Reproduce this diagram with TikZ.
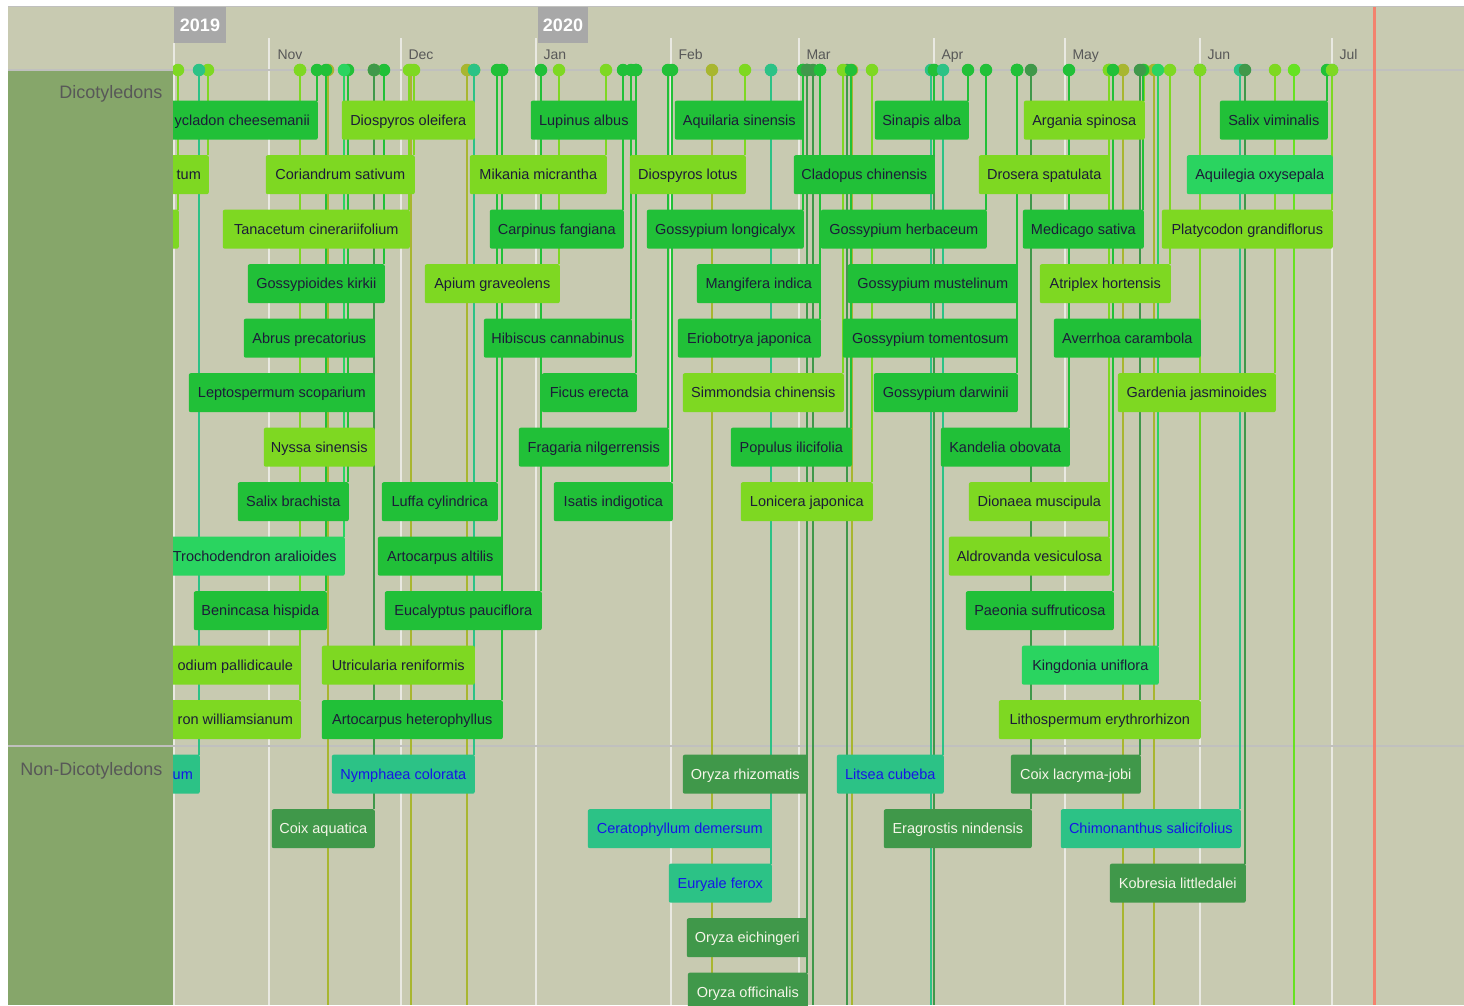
\documentclass[tikz,border=0pt]{standalone}
\usepackage{fontspec}
\setmainfont{Liberation Sans}
\pgfdeclarelayer{back}
\pgfdeclarelayer{stems}
\pgfsetlayers{back,stems,main}

\definecolor{paper}{RGB}{200,202,177}
\definecolor{groupcol}{RGB}{134,166,106}
\definecolor{gridline}{RGB}{233,233,226}
\definecolor{axisgray}{RGB}{192,192,190}
\definecolor{labelgray}{RGB}{88,88,88}
\definecolor{yearfill}{RGB}{168,168,168}
\definecolor{nowred}{RGB}{243,130,110}
\definecolor{cbg}{RGB}{33,192,56}
\definecolor{cyg}{RGB}{126,216,34}
\definecolor{clg}{RGB}{42,212,96}
\definecolor{ctl}{RGB}{44,194,134}
\definecolor{cdg}{RGB}{64,152,74}
\definecolor{col}{RGB}{168,182,48}
\definecolor{cbr}{RGB}{102,226,34}
\definecolor{inkdark}{RGB}{28,28,56}
\definecolor{inkblue}{RGB}{22,22,230}
\definecolor{inklight}{RGB}{245,245,232}

\tikzset{
  taxbox/.style={rounded corners=2pt, inner sep=0pt, minimum height=39pt,
    font=\fontsize{14.5}{17}\selectfont, text height=12pt, text depth=1.5pt,
    anchor=north east},
  kbg/.style={fill=cbg, text=inkdark},
  kyg/.style={fill=cyg, text=inkdark},
  klg/.style={fill=clg, text=inkdark},
  ktl/.style={fill=ctl, text=inkblue},
  kdg/.style={fill=cdg, text=inklight},
  pin/.style={circle, inner sep=0pt, minimum size=12.5pt, fill=#1},
  stem/.style={draw=#1, line width=1.1pt},
  monthline/.style={draw=gridline, line width=1.4pt},
  monthlabel/.style={anchor=base west, text=labelgray, font=\fontsize{14}{16}\selectfont},
  yearbox/.style={fill=yearfill, text=white, inner sep=0pt, minimum height=36pt,
    font=\fontsize{18}{20}\selectfont\bfseries},
  grouplabel/.style={anchor=base east, text=labelgray, font=\fontsize{18}{20}\selectfont},
}

% one taxon: name, left x, right x, row, colour key, label
\newcommand\taxon[6]{%
  \node[taxbox, k#5, minimum width={(#3)-(#2)}] (#1) at (#3,{100.5+(#4-1)*54.5}) {#6};
  \node[pin=c#5] (#1-pin) at ({#3-1},70) {};
  \begin{pgfonlayer}{stems}
    \draw[stem=c#5] (#1-pin.center) -- (#1-pin.center |- #1.north);
  \end{pgfonlayer}
}
% a marker whose item lies below the visible rows
\newcommand\longpin[3]{%
  \node[pin=#3] (#1) at (#2,70) {};
  \coordinate (#1-end) at (#2,1005);
  \begin{pgfonlayer}{stems}
    \draw[stem=#3] (#1.center) -- (#1-end);
  \end{pgfonlayer}
}

\begin{document}
\begin{tikzpicture}[x=1pt,y=-1pt]
\useasboundingbox (0,0) rectangle (1464,1005);

\begin{pgfonlayer}{back}
  \fill[white] (0,0) rectangle (1464,1005);
  \fill[paper] (8,6) rectangle (1464,1005);
  \fill[groupcol] (8,70) rectangle (173,1005);
  \draw[axisgray, line width=1pt] (8,6.5) -- (1464,6.5);
  % month grid
  \foreach \mx in {269,401,536,671,799,934,1065,1200,1332}
    \draw[monthline] (\mx,38) -- (\mx,1005);
  \draw[monthline] (174,43) -- (174,1005);
  % axis and group separator
  \draw[axisgray, line width=1.2pt] (8,70) -- (1464,70);
  \draw[axisgray, line width=1.4pt] (8,746) -- (1464,746);
  % current date
  \draw[nowred, line width=3pt] (1374,7) -- (1374,1005);
\end{pgfonlayer}

% header
\node[yearbox, minimum width=52pt] (y2019) at (200,25) {2019};
\node[yearbox, minimum width=50pt] (y2020) at (563,25) {2020};
\node[monthlabel] (mNov) at (274,59) {Nov};
\node[monthlabel] (mDec) at (405,59) {Dec};
\node[monthlabel] (mJan) at (540,59) {Jan};
\node[monthlabel] (mFeb) at (675,59) {Feb};
\node[monthlabel] (mMar) at (803,59) {Mar};
\node[monthlabel] (mApr) at (938,59) {Apr};
\node[monthlabel] (mMay) at (1069,59) {May};
\node[monthlabel] (mJun) at (1204,59) {Jun};
\node[monthlabel] (mJul) at (1336,59) {Jul};

% groups
\node[grouplabel] (gDicot) at (166,98) {Dicotyledons};
\node[grouplabel] (gNonDicot) at (166,775) {Non-Dicotyledons};

\begin{scope}
\clip (173,63) rectangle (1464,1005);
% markers for items further down
\longpin{p01}{328}{col}
\longpin{p02}{411}{col}
\longpin{p03}{467}{col}
\longpin{p04}{712}{col}
\longpin{p05}{813}{cdg}
\longpin{p06}{847}{cdg}
\longpin{p07}{852}{col}
\longpin{p08}{931}{ctl}
\longpin{p09}{934}{cdg}
\longpin{p10}{1123}{col}
\longpin{p11}{1154}{col}
\longpin{p12}{1294}{cbr}

% Dicotyledons
\taxon{t01}{167}{318}{1}{bg}{ycladon cheesemanii}
\taxon{t02}{342}{475}{1}{yg}{Diospyros oleifera}
\taxon{t03}{531}{637}{1}{bg}{Lupinus albus}
\taxon{t04}{675}{804}{1}{bg}{Aquilaria sinensis}
\taxon{t05}{875}{969}{1}{bg}{Sinapis alba}
\taxon{t06}{1024}{1145}{1}{yg}{Argania spinosa}
\taxon{t07}{1220}{1328}{1}{bg}{Salix viminalis}

\taxon{t08}{169}{209}{2}{yg}{tum}
\taxon{t09}{266}{415}{2}{yg}{Coriandrum sativum}
\taxon{t10}{470}{607}{2}{yg}{Mikania micrantha}
\taxon{t11}{630}{746}{2}{yg}{Diospyros lotus}
\taxon{t12}{794}{935}{2}{bg}{Cladopus chinensis}
\taxon{t13}{979}{1110}{2}{yg}{Drosera spatulata}
\taxon{t14}{1187}{1333}{2}{lg}{Aquilegia oxysepala}

\taxon{t15}{150}{179}{3}{yg}{}
\taxon{t16}{223}{410}{3}{yg}{Tanacetum cinerariifolium}
\taxon{t17}{490}{624}{3}{bg}{Carpinus fangiana}
\taxon{t18}{647}{804}{3}{bg}{Gossypium longicalyx}
\taxon{t19}{821}{987}{3}{bg}{Gossypium herbaceum}
\taxon{t20}{1023}{1144}{3}{bg}{Medicago sativa}
\taxon{t21}{1162}{1333}{3}{yg}{Platycodon grandiflorus}

\taxon{t22}{248}{385}{4}{bg}{Gossypioides kirkii}
\taxon{t23}{425}{560}{4}{yg}{Apium graveolens}
\taxon{t24}{697}{821}{4}{bg}{Mangifera indica}
\taxon{t25}{848}{1018}{4}{bg}{Gossypium mustelinum}
\taxon{t26}{1040}{1171}{4}{yg}{Atriplex hortensis}

\taxon{t27}{244}{375}{5}{bg}{Abrus precatorius}
\taxon{t28}{484}{632}{5}{bg}{Hibiscus cannabinus}
\taxon{t29}{678}{821}{5}{bg}{Eriobotrya japonica}
\taxon{t30}{843}{1018}{5}{bg}{Gossypium tomentosum}
\taxon{t31}{1054}{1201}{5}{bg}{Averrhoa carambola}

\taxon{t32}{189}{375}{6}{bg}{Leptospermum scoparium}
\taxon{t33}{542}{637}{6}{bg}{Ficus erecta}
\taxon{t34}{683}{844}{6}{yg}{Simmondsia chinensis}
\taxon{t35}{874}{1018}{6}{bg}{Gossypium darwinii}
\taxon{t36}{1118}{1276}{6}{yg}{Gardenia jasminoides}

\taxon{t37}{264}{375}{7}{yg}{Nyssa sinensis}
\taxon{t38}{519}{669}{7}{bg}{Fragaria nilgerrensis}
\taxon{t39}{731}{852}{7}{bg}{Populus ilicifolia}
\taxon{t40}{941}{1070}{7}{bg}{Kandelia obovata}

\taxon{t41}{238}{349}{8}{bg}{Salix brachista}
\taxon{t42}{382}{498}{8}{bg}{Luffa cylindrica}
\taxon{t43}{554}{673}{8}{bg}{Isatis indigotica}
\taxon{t44}{741}{873}{8}{yg}{Lonicera japonica}
\taxon{t45}{969}{1110}{8}{yg}{Dionaea muscipula}

\taxon{t46}{165}{345}{9}{lg}{Trochodendron aralioides}
\taxon{t47}{378}{503}{9}{bg}{Artocarpus altilis}
\taxon{t48}{949}{1110}{9}{yg}{Aldrovanda vesiculosa}

\taxon{t49}{194}{327}{10}{bg}{Benincasa hispida}
\taxon{t50}{385}{542}{10}{bg}{Eucalyptus pauciflora}
\taxon{t51}{966}{1114}{10}{bg}{Paeonia suffruticosa}

\taxon{t52}{170}{301}{11}{yg}{odium pallidicaule}
\taxon{t53}{322}{475}{11}{yg}{Utricularia reniformis}
\taxon{t54}{1022}{1159}{11}{lg}{Kingdonia uniflora}

\taxon{t55}{170}{301}{12}{yg}{ron williamsianum}
\taxon{t56}{322}{503}{12}{bg}{Artocarpus heterophyllus}
\taxon{t57}{999}{1201}{12}{yg}{Lithospermum erythrorhizon}

% Non-Dicotyledons
\taxon{t58}{166}{200}{13}{tl}{um}
\taxon{t59}{332}{475}{13}{tl}{Nymphaea colorata}
\taxon{t60}{683}{808}{13}{dg}{Oryza rhizomatis}
\taxon{t61}{837}{944}{13}{tl}{Litsea cubeba}
\taxon{t62}{1011}{1141}{13}{dg}{Coix lacryma-jobi}

\taxon{t63}{272}{375}{14}{dg}{Coix aquatica}
\taxon{t64}{588}{772}{14}{tl}{Ceratophyllum demersum}
\taxon{t65}{884}{1032}{14}{dg}{Eragrostis nindensis}
\taxon{t66}{1061}{1241}{14}{tl}{Chimonanthus salicifolius}

\taxon{t67}{669}{772}{15}{tl}{Euryale ferox}
\taxon{t68}{1110}{1246}{15}{dg}{Kobresia littledalei}

\taxon{t69}{687}{808}{16}{dg}{Oryza eichingeri}

\taxon{t70}{688}{808}{17}{dg}{Oryza officinalis}
\end{scope}
\end{tikzpicture}
\end{document}
